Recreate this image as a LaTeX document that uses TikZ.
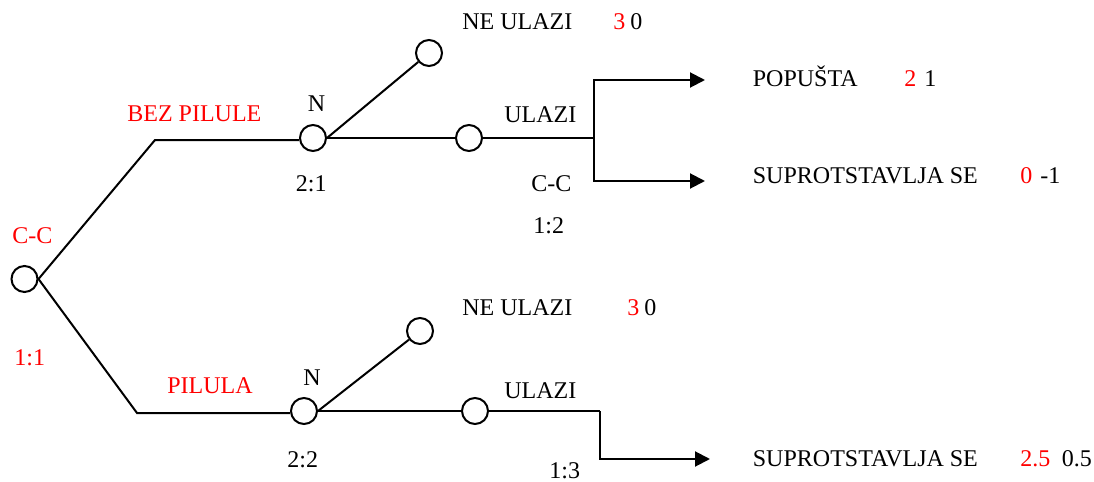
\documentclass[tikz,border=0pt]{standalone}
\usepackage{fontspec}
\setmainfont{Liberation Serif}
\usetikzlibrary{arrows.meta}
\begin{document}
\begin{tikzpicture}[x=0.5pt,y=-0.5pt,
  every node/.style={font=\fontsize{12}{14}\selectfont},
  dot/.style={circle,draw,line width=1pt,minimum size=13pt,inner sep=0pt},
  lbl/.style={anchor=base west,inner sep=0pt},
  rlbl/.style={lbl,text=red},
  conn/.style={line width=1pt},
  arr/.style={conn,-{Triangle[length=7.5pt,width=7.5pt]}}]
\useasboundingbox (0,0) rectangle (1094,482);
% nodes
\node[dot] (root) at (24.5,279) {};
\node[dot] (n1) at (313,138) {};
\node[dot] (a1) at (429,53) {};
\node[dot] (b1) at (469,138) {};
\node[dot] (n2) at (304,411) {};
\node[dot] (a2) at (420,331) {};
\node[dot] (b2) at (475,411) {};
\coordinate (c1) at (155,140);
\coordinate (c2) at (137,413);
\coordinate (j1) at (594,138);
\coordinate (j2) at (600,411);
\coordinate (t1) at (705,80);
\coordinate (t2) at (705,181);
\coordinate (t3) at (710,459);
% connectors
\draw[conn] (root.east) -- (c1) -- (c1 -| n1.west);
\draw[conn] (root.east) -- (c2) -- (c2 -| n2.west);
\draw[conn] (n1.east) -- (a1);
\draw[conn] (n1.east) -- (b1.west);
\draw[conn] (b1.east) -- (j1);
\draw[arr] (j1) |- (t1);
\draw[arr] (j1) |- (t2);
\draw[conn] (n2.east) -- (a2);
\draw[conn] (n2.east) -- (b2.west);
\draw[conn] (b2.east) -- (j2);
\draw[arr] (j2) |- (t3);
% labels
\node[rlbl] (lcc) at (12,243) {C-C};
\node[rlbl] (l11) at (14,365) {1:1};
\node[rlbl] (lbez) at (127,121.5) {BEZ PILULE};
\node[rlbl] (lpil) at (167,393) {PILULA};
\node[lbl] (ln1) at (307.5,112) {N};
\node[lbl] (l21) at (295.5,191) {2:1};
\node[lbl] (ln2) at (303,385) {N};
\node[lbl] (l22) at (287,467) {2:2};
\node[lbl] (lne1) at (462,29.5) {NE ULAZI};
\node[rlbl] (lne1a) at (613,29.5) {3};
\node[lbl] (lne1b) at (630,29.5) {0};
\node[lbl] (lne2) at (462,315) {NE ULAZI};
\node[rlbl] (lne2a) at (627,315) {3};
\node[lbl] (lne2b) at (644,315) {0};
\node[lbl] (lul1) at (504,122) {ULAZI};
\node[lbl] (lcc2) at (531,191) {C-C};
\node[lbl] (l12) at (533,233) {1:2};
\node[lbl] (lul2) at (504,398) {ULAZI};
\node[lbl] (l13) at (549,478) {1:3};
\node[lbl] (lpop) at (752.5,86) {POPUŠTA};
\node[rlbl] (lpopa) at (904,86) {2};
\node[lbl] (lpopb) at (924,86) {1};
\node[lbl] (lsup1) at (752.5,183) {SUPROTSTAVLJA SE};
\node[rlbl] (lsup1a) at (1020,183) {0};
\node[lbl] (lsup1b) at (1040,183) {-1};
\node[lbl] (lsup2) at (752.5,466) {SUPROTSTAVLJA SE};
\node[rlbl] (lsup2a) at (1020,466) {2.5};
\node[lbl] (lsup2b) at (1061.5,466) {0.5};
\end{tikzpicture}
\end{document}
